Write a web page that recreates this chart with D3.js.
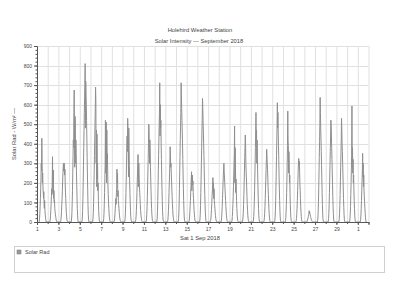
<!DOCTYPE html>
<html><head><meta charset="utf-8">
<script src="https://cdn.jsdelivr.net/npm/d3@7"></script>
<style>
html,body{margin:0;padding:0;background:#fff;}
svg{display:block;font-family:"Liberation Sans",Arial,sans-serif;}
</style></head>
<body><svg id="c" width="400" height="300"></svg>
<script>
const titleText = "Holehird Weather Station";
const subtitleText = "Solar Intensity --- September 2018";
const yLabelText = "Solar Rad - W/m\u00B2 \u2014";
const xLabelText = "Sat 1 Sep 2018";
const legendText = "Solar Rad";
const monthStart = "2018-09-01";
const dayCount = 31;
const firstReading = "04:30";
const readingStepMinutes = 38;
const yTicks = [0,100,200,300,400,500,600,700,800,900];
// readings for each day, 1 Sep .. 1 Oct (W/m²)
const solarRad = [
[0,5,20,45,80,120,170,220,300,260,428,310,200,250,180,150,120,155,90,70,110,60,40,25,12,4,0],
[0,3,15,35,60,90,130,170,140,210,334,180,150,265,120,160,100,115,70,55,40,30,20,10,5,2,0],
[0,3,12,30,55,90,120,160,210,250,280,300,260,295,300,240,270,200,150,120,80,50,30,15,6,2,0],
[0,5,20,50,100,160,250,340,420,380,560,675,470,280,540,510,300,420,350,260,190,130,70,35,12,3,0],
[0,6,25,60,120,200,290,380,470,560,640,700,810,480,720,650,600,520,430,330,240,160,90,40,14,3,0],
[0,5,20,50,100,170,250,340,420,500,580,690,620,300,470,180,450,220,300,160,200,110,60,30,10,2,0],
[0,4,18,45,90,150,220,290,520,250,380,510,200,470,300,350,260,180,140,100,70,45,25,12,5,1,0],
[0,3,10,25,45,70,100,120,90,150,170,270,200,250,130,160,110,90,70,50,35,20,12,6,3,1,0],
[0,4,18,45,90,150,220,300,380,440,360,530,490,420,230,480,370,290,210,150,100,60,30,14,5,1,0],
[0,3,12,30,60,100,150,200,250,300,345,180,290,300,220,180,150,120,90,60,40,25,14,6,2,1,0],
[0,4,15,40,80,130,190,260,320,400,500,480,380,300,420,360,280,220,160,110,70,40,20,8,3,1,0],
[0,5,20,55,110,180,260,340,420,500,560,712,440,600,480,520,400,320,240,170,110,60,28,10,3,1,0],
[0,3,12,30,60,100,150,200,250,300,385,340,280,300,250,210,170,130,95,65,40,24,12,5,2,0,0],
[0,4,18,50,100,170,250,330,420,490,560,712,650,580,520,460,400,320,240,170,110,60,26,9,2,0,0],
[0,2,10,25,50,80,110,150,180,220,257,160,200,240,190,210,150,120,90,60,40,22,10,4,1,0,0],
[0,3,15,40,85,150,220,300,380,460,530,632,580,520,460,400,340,270,200,140,90,50,22,7,2,0,0],
[0,2,8,20,40,65,95,130,160,190,227,150,200,120,170,110,90,70,50,34,20,11,5,2,0,0,0],
[0,2,10,25,50,80,120,160,200,240,270,300,260,230,200,170,140,110,80,55,35,18,8,3,1,0,0],
[0,2,10,28,55,90,130,180,240,300,350,491,200,380,300,150,220,160,110,70,40,20,8,3,1,0,0],
[0,2,10,25,50,90,140,200,260,330,380,445,400,300,260,220,180,130,90,60,35,18,7,2,0,0,0],
[0,2,10,28,60,100,160,230,300,380,460,560,430,470,300,420,330,250,180,120,70,35,14,4,1,0,0],
[0,1,8,22,45,80,120,170,220,270,320,372,340,300,270,230,180,140,100,65,40,20,8,2,0,0,0],
[0,1,8,25,60,110,180,260,340,420,500,610,480,560,450,390,320,240,170,110,60,26,9,2,0,0,0],
[0,1,7,22,50,90,150,220,300,390,567,420,390,250,360,300,200,240,150,90,50,22,8,2,0,0,0],
[0,1,6,18,40,70,110,160,210,260,300,325,290,310,260,200,160,120,80,50,28,12,4,1,0,0,0],
[0,0,2,5,10,15,20,28,35,40,58,45,50,40,35,28,22,16,11,7,4,2,1,0,0,0,0],
[0,0,6,20,50,100,170,250,330,410,500,637,560,480,420,360,290,220,150,90,45,18,5,1,0,0,0],
[0,0,5,18,45,90,150,220,290,360,430,521,500,450,380,320,260,190,130,80,40,15,4,1,0,0,0],
[0,0,5,18,45,85,140,210,280,350,420,530,480,400,360,300,240,180,120,75,38,14,4,1,0,0,0],
[0,0,4,16,40,80,140,200,270,340,593,300,380,250,320,200,240,160,110,70,35,13,3,1,0,0,0],
[0,0,4,14,35,70,110,160,210,260,351,230,300,180,240,160,130,100,70,45,24,9,2,0,0,0,0]
];

const svg = d3.select("#c");
const parseDay = d3.timeParse("%Y-%m-%d");
const start = parseDay(monthStart);
const end = d3.timeDay.offset(start, dayCount);
const [h0, m0] = firstReading.split(":").map(Number);

const points = [];
solarRad.forEach((row, d) => {
  const dayDate = d3.timeDay.offset(start, d);
  row.forEach((v, i) => {
    const t = new Date(dayDate.getTime() + (h0*60 + m0 + i*readingStepMinutes)*60000);
    points.push({t, v});
  });
});

const m = {left:37, right:31.5, top:46, bottom:78};
const W = 400, H = 300;
const x = d3.scaleTime().domain([start, end]).range([m.left, W - m.right]);
const y = d3.scaleLinear().domain([0, 900]).range([H - m.bottom, m.top]);

// grid
const g = svg.append("g");
g.selectAll("line.vg").data(d3.timeDay.range(start, d3.timeDay.offset(end,1)))
  .join("line").attr("x1", d=>x(d)+0.5).attr("x2", d=>x(d)+0.5)
  .attr("y1", y(900)).attr("y2", y(0)).attr("stroke", "#e0e0e0").attr("stroke-width", 1);
g.selectAll("line.hg").data(yTicks.slice(1))
  .join("line").attr("x1", m.left).attr("x2", W - m.right)
  .attr("y1", d=>Math.round(y(d))+0.5).attr("y2", d=>Math.round(y(d))+0.5)
  .attr("stroke", "#e0e0e0").attr("stroke-width", 1);

// data line
svg.append("path").datum(points)
  .attr("fill", "none").attr("stroke", "#8f8f8f").attr("stroke-width", 1)
  .attr("d", d3.line().x(d=>x(d.t)).y(d=>y(d.v)));

const axisColor = "#555";
// y axis
const ya = svg.append("g").attr("transform", `translate(${m.left},0)`)
  .call(d3.axisLeft(y).tickValues(yTicks).tickSize(3).tickPadding(2));
svg.append("g").attr("transform", `translate(${m.left},0)`)
  .call(d3.axisLeft(y).tickValues(d3.range(0, 901, 20)).tickSize(1.5).tickFormat(""))
  .call(s=>s.select(".domain").remove())
  .selectAll("line").attr("stroke", axisColor);
ya.select(".domain").attr("stroke", axisColor);
ya.selectAll("line").attr("stroke", axisColor);
ya.selectAll("text").attr("font-size", 5).attr("fill", "#444").attr("font-family", "Liberation Sans, Arial, sans-serif");

// x axis
const xa = svg.append("g").attr("transform", `translate(0,${H - m.bottom})`)
  .call(d3.axisBottom(x).tickValues(d3.timeDay.range(start, d3.timeDay.offset(end,1), 2))
    .tickFormat(d3.timeFormat("%-d")).tickSize(3).tickPadding(2));
svg.append("g").attr("transform", `translate(0,${H - m.bottom})`)
  .call(d3.axisBottom(x).tickValues(d3.timeDay.range(start, d3.timeDay.offset(end,1))).tickSize(2).tickFormat(""))
  .call(s=>s.select(".domain").remove())
  .selectAll("line").attr("stroke", axisColor);
xa.select(".domain").attr("stroke", axisColor);
xa.selectAll("line").attr("stroke", axisColor);
xa.selectAll("text").attr("font-size", 5).attr("fill", "#444").attr("font-family", "Liberation Sans, Arial, sans-serif");

// titles
svg.append("text").attr("x", 200).attr("y", 32).attr("text-anchor", "middle")
  .attr("font-size", 5.8).attr("fill", "#444").text(titleText);
svg.append("text").attr("x", 199).attr("y", 43).attr("text-anchor", "middle")
  .attr("font-size", 5.8).attr("fill", "#444").text(subtitleText);
svg.append("text").attr("x", 200).attr("y", 240).attr("text-anchor", "middle")
  .attr("font-size", 5.8).attr("fill", "#444").text(xLabelText);
svg.append("text").attr("transform", `translate(16,${(y(0)+y(900))/2}) rotate(-90)`)
  .attr("text-anchor", "middle").attr("font-size", 5.8).attr("fill", "#444").text(yLabelText);

// legend
svg.append("rect").attr("x", 14.5).attr("y", 246.5).attr("width", 370).attr("height", 26)
  .attr("fill", "#fff").attr("stroke", "#d0d0d0").attr("stroke-width", 1);
svg.append("rect").attr("x", 17).attr("y", 250).attr("width", 4).attr("height", 4)
  .attr("fill", "#999").attr("stroke", "#777").attr("stroke-width", 0.5);
svg.append("text").attr("x", 25).attr("y", 254).attr("font-size", 5.5).attr("fill", "#444").text(legendText);
</script></body></html>
